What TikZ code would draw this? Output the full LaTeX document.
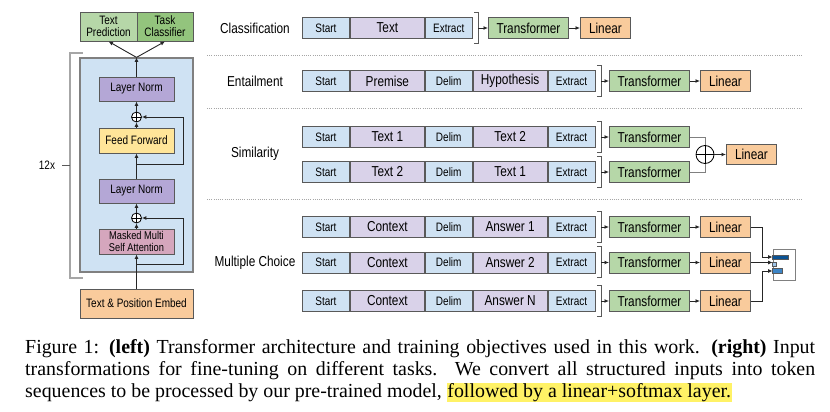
\documentclass[tikz,border=0pt]{standalone}
\usepackage{fontspec}
\setmainfont{Liberation Serif}
\newfontfamily\diagfont[FakeStretch=0.82]{Liberation Sans}
\usepackage{tikz}
\usetikzlibrary{arrows.meta, positioning, calc}

\definecolor{tokblue}{HTML}{CFE2F3}
\definecolor{txtpurple}{HTML}{D9D2E9}
\definecolor{trfgreen}{HTML}{B6D7A8}
\definecolor{clsgreen}{HTML}{93C47D}
\definecolor{linorange}{HTML}{F9CB9C}
\definecolor{normpurple}{HTML}{B4A7D6}
\definecolor{ffyellow}{HTML}{FFE599}
\definecolor{attnpink}{HTML}{D5A6BD}
\definecolor{edgegray}{HTML}{595959}
\definecolor{bardark}{HTML}{0B5394}
\definecolor{barmid}{HTML}{3D85C6}
\definecolor{barlight}{HTML}{9FC5E8}
\definecolor{hlyellow}{HTML}{FFF266}

\newcommand{\lblfont}{\diagfont\fontsize{14.4}{15}\selectfont}
\newcommand{\tokfont}{\diagfont\fontsize{12.2}{13}\selectfont}
\newcommand{\sidefont}{\diagfont\fontsize{12.2}{12}\selectfont}
\newcommand{\attnfont}{\diagfont\fontsize{11.3}{11.2}\selectfont}

\begin{document}
\begin{tikzpicture}[x=1pt, y=-1pt,
    box/.style={draw=edgegray, line width=0.9pt, inner sep=0pt, align=center},
    tok cell/.style={box, fill=tokblue, minimum width=47pt, minimum height=21pt, anchor=west, font=\tokfont},
    txt cell/.style={box, fill=txtpurple, minimum width=74pt, minimum height=21pt, anchor=west, font=\lblfont},
    tf box/.style={box, fill=trfgreen, minimum width=80pt, minimum height=21pt, anchor=west, font=\lblfont},
    lin box/.style={box, fill=linorange, minimum width=50pt, minimum height=21pt, anchor=west, font=\lblfont},
    task label/.style={font=\lblfont, inner sep=0pt},
    layer box/.style={box, minimum width=75pt, minimum height=24pt, font=\sidefont},
    adder/.style={circle, draw=black, line width=0.8pt, fill=white, inner sep=0pt, minimum size=#1,
        path picture={\draw[line width=0.8pt] (path picture bounding box.north) -- (path picture bounding box.south)
            (path picture bounding box.west) -- (path picture bounding box.east);}},
    arr/.style={-{Latex[length=4.5pt, width=4pt]}, line width=0.9pt, draw=black!85},
    brkt/.style={draw=edgegray, line width=0.9pt},
    join line/.style={draw=gray, line width=0.9pt},
    sep line/.style={draw=gray!70, line width=0.8pt, dash pattern=on 1pt off 1.2pt},
    caption/.style={text width=790pt, align=justify, inner sep=0pt, anchor=north west, font=\fontsize{19.9}{21.8}\selectfont}
]
    \useasboundingbox (0,0) rectangle (830,412);

    % Left: transformer block
    \draw[draw=gray!70, line width=1.6pt] (83,53) -- (70,53) -- (70,278) -- (83,278);
    \node[font=\sidefont, inner sep=0pt] (rep) at (47,165) {12x};
    \draw[brkt] (62,165) -- (70,165);

    \node[box, fill=trfgreen, minimum width=57pt, minimum height=29pt, font=\sidefont] (pred) at (108.5,26.5) {Text\\Prediction};
    \node[box, fill=clsgreen, minimum width=56pt, minimum height=29pt, font=\sidefont] (clsf) at (165,26.5) {Task\\Classifier};

    \node[box, draw=gray, line width=1.2pt, fill=tokblue, minimum width=113pt, minimum height=214pt] (blk) at (136.5,165) {};
    \node[layer box, fill=normpurple] (ln2) at (136.5,89) {Layer Norm};
    \node[adder=10pt] (add2) at (136.5,117) {};
    \node[layer box, fill=ffyellow, minimum height=25pt] (ff) at (136.5,140.5) {Feed Forward};
    \node[layer box, fill=normpurple] (ln1) at (136.5,191) {Layer Norm};
    \node[adder=10pt] (add1) at (136.5,218) {};
    \node[layer box, fill=attnpink, minimum height=25pt, font=\attnfont] (attn) at (136.5,241.5) {Masked Multi\\Self Attention};
    \node[box, fill=linorange, minimum width=113pt, minimum height=29pt, font=\sidefont] (emb) at (136.5,303.5) {Text \& Position Embed};

    % Trunk and residual paths
    \coordinate (res1) at (136.5,264);
    \coordinate (res2) at (136.5,164);
    \draw[arr] (emb.north) -- (attn.south);
    \draw[arr] (attn.north) -- (add1.south);
    \draw[arr] (add1.north) -- (ln1.south);
    \draw[arr] (ln1.north) -- (ff.south);
    \draw[arr] (ff.north) -- (add2.south);
    \draw[arr] (add2.north) -- (ln2.south);
    \draw[arr] (ln2.north) -- (blk.north);
    \draw[arr] (blk.north) -- (pred.south);
    \draw[arr] (blk.north) -- (clsf.south);
    \draw[arr] (res1) -- ++(46.5,0) |- (add1.east);
    \draw[arr] (res2) -- ++(46.5,0) |- (add2.east);

    % Separators
    \draw[sep line] (207,55) -- (802,55);
    \draw[sep line] (207,108) -- (802,108);
    \draw[sep line] (207,199) -- (802,199);

    % Task labels
    \node[task label] (cls-lbl) at (255,28) {Classification};
    \node[task label] (ent-lbl) at (255,81) {Entailment};
    \node[task label] (sim-lbl) at (255,154) {Similarity};
    \node[task label] (mc-lbl) at (255,263) {Multiple Choice};

    % Classification
    \node[tok cell] (cls-s) at (302,28) {Start};
    \node[txt cell] (cls-t) at (cls-s.east) {Text};
    \node[tok cell] (cls-e) at (cls-t.east) {Extract};
    \node[tf box] (cls-tf) at (488,28) {Transformer};
    \node[lin box] (cls-lin) at (580,28) {Linear};

    % Entailment
    \node[tok cell] (ent-s) at (302,81) {Start};
    \node[txt cell] (ent-p) at (ent-s.east) {Premise};
    \node[tok cell] (ent-d) at (ent-p.east) {Delim};
    \node[txt cell] (ent-h) at (ent-d.east) {Hypothesis};
    \node[tok cell] (ent-e) at (ent-h.east) {Extract};
    \node[tf box] (ent-tf) at (609,81) {Transformer};
    \node[lin box] (ent-lin) at (700,81) {Linear};

    % Similarity
    \node[tok cell] (sim1-s) at (302,137) {Start};
    \node[txt cell] (sim1-a) at (sim1-s.east) {Text 1};
    \node[tok cell] (sim1-d) at (sim1-a.east) {Delim};
    \node[txt cell] (sim1-b) at (sim1-d.east) {Text 2};
    \node[tok cell] (sim1-e) at (sim1-b.east) {Extract};
    \node[tf box] (sim1-tf) at (609,137) {Transformer};

    \node[tok cell] (sim2-s) at (302,172) {Start};
    \node[txt cell] (sim2-a) at (sim2-s.east) {Text 2};
    \node[tok cell] (sim2-d) at (sim2-a.east) {Delim};
    \node[txt cell] (sim2-b) at (sim2-d.east) {Text 1};
    \node[tok cell] (sim2-e) at (sim2-b.east) {Extract};
    \node[tf box] (sim2-tf) at (609,172) {Transformer};

    \node[adder=18pt] (sim-add) at (705,154.5) {};
    \node[lin box, minimum height=20pt] (sim-lin) at (726,154.5) {Linear};

    % Multiple choice
    \node[tok cell] (mc1-s) at (302,227) {Start};
    \node[txt cell] (mc1-c) at (mc1-s.east) {Context};
    \node[tok cell] (mc1-d) at (mc1-c.east) {Delim};
    \node[txt cell] (mc1-a) at (mc1-d.east) {Answer 1};
    \node[tok cell] (mc1-e) at (mc1-a.east) {Extract};
    \node[tf box] (mc1-tf) at (609,227) {Transformer};
    \node[lin box] (mc1-lin) at (700,227) {Linear};

    \node[tok cell] (mc2-s) at (302,262.5) {Start};
    \node[txt cell] (mc2-c) at (mc2-s.east) {Context};
    \node[tok cell] (mc2-d) at (mc2-c.east) {Delim};
    \node[txt cell] (mc2-a) at (mc2-d.east) {Answer 2};
    \node[tok cell] (mc2-e) at (mc2-a.east) {Extract};
    \node[tf box] (mc2-tf) at (609,262.5) {Transformer};
    \node[lin box] (mc2-lin) at (700,262.5) {Linear};

    \node[tok cell] (mc3-s) at (302,301) {Start};
    \node[txt cell] (mc3-c) at (mc3-s.east) {Context};
    \node[tok cell] (mc3-d) at (mc3-c.east) {Delim};
    \node[txt cell] (mc3-a) at (mc3-d.east) {Answer N};
    \node[tok cell] (mc3-e) at (mc3-a.east) {Extract};
    \node[tf box] (mc3-tf) at (609,301) {Transformer};
    \node[lin box] (mc3-lin) at (700,301) {Linear};

    % Softmax output
    \node[draw=gray, line width=0.9pt, fill=white, minimum width=22pt, minimum height=31pt, inner sep=0pt] (res) at (784,264.5) {};
    \filldraw[fill=bardark, draw=edgegray, line width=0.5pt] ([shift={(0,7)}]res.north west) rectangle ++(16,4);
    \filldraw[fill=barlight, draw=edgegray, line width=0.5pt] ([shift={(0,13.5)}]res.north west) rectangle ++(4,4);
    \filldraw[fill=barmid, draw=edgegray, line width=0.5pt] ([shift={(0,20)}]res.north west) rectangle ++(10,5);

    % Brackets after each sequence
    \foreach \r in {cls-e, ent-e, sim1-e, sim2-e, mc1-e, mc2-e, mc3-e} {
        \draw[brkt] ([shift={(1.5,-5)}]\r.north east) -- ++(4,0) -- ++(0,31) -- ++(-4,0);
        \coordinate (\r-br) at ([xshift=5.5pt]\r.east);
    }

    % Connectors
    \draw[arr] (cls-e-br) -- (cls-tf.west);
    \draw[arr] (cls-tf.east) -- (cls-lin.west);
    \draw[arr] (ent-e-br) -- (ent-tf.west);
    \draw[arr] (ent-tf.east) -- (ent-lin.west);
    \draw[arr] (sim1-e-br) -- (sim1-tf.west);
    \draw[arr] (sim2-e-br) -- (sim2-tf.west);
    \draw[join line] (sim1-tf.east) -| (sim-add.north);
    \draw[join line] (sim2-tf.east) -| (sim-add.south);
    \draw[arr] (sim-add.east) -- (sim-lin.west);
    \draw[arr] (mc1-e-br) -- (mc1-tf.west);
    \draw[arr] (mc2-e-br) -- (mc2-tf.west);
    \draw[arr] (mc3-e-br) -- (mc3-tf.west);
    \draw[arr] (mc1-tf.east) -- (mc1-lin.west);
    \draw[arr] (mc2-tf.east) -- (mc2-lin.west);
    \draw[arr] (mc3-tf.east) -- (mc3-lin.west);
    \draw[arr] (mc1-lin.east) -- ++(12,0) |- ([yshift=7.5pt]res.west);
    \draw[arr] (mc2-lin.east) -- (mc2-lin.east -| res.west);
    \draw[arr] (mc3-lin.east) -- ++(12,0) |- ([yshift=-6.5pt]res.west);

    % Caption
    \node[caption] (cap) at (25,339.5) {\noindent Figure 1: \textbf{(left)} Transformer architecture and training objectives used in this work. \textbf{(right)} Input\linebreak
        transformations for fine-tuning on different tasks. We convert all structured inputs into token\linebreak
        sequences to be processed by our pre-trained model, {\setlength{\fboxsep}{0.6pt}\colorbox{hlyellow}{followed by a linear+softmax layer.}}};
\end{tikzpicture}
\end{document}
